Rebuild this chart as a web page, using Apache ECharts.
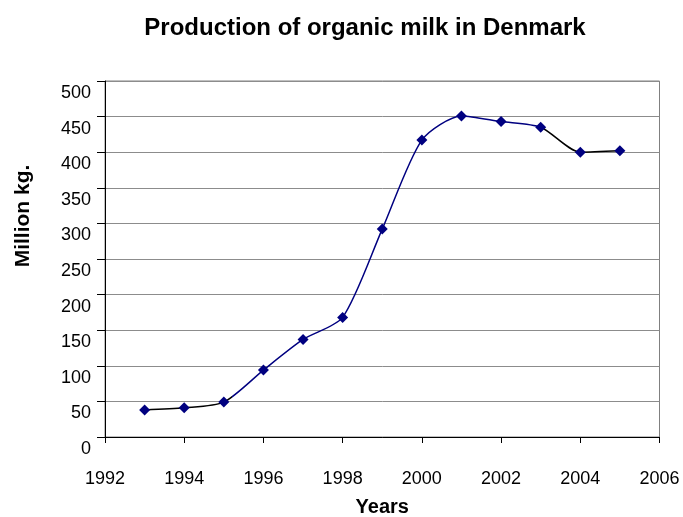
<!DOCTYPE html>
<html>
<head>
<meta charset="utf-8">
<script src="https://cdn.jsdelivr.net/npm/echarts@6/dist/echarts.min.js"></script>
<style>html,body{margin:0;padding:0;background:#fff}#c{width:683px;height:517px}</style>
</head>
<body>
<div id="c"></div>
<script>
const years = [1993, 1994, 1995, 1996, 1997, 1998, 1999, 2000, 2001, 2002, 2003, 2004, 2005];
const production = [38, 41, 49, 94, 137, 168, 292, 417, 451, 443, 435, 400, 402];
const titleText = 'Production of organic milk in Denmark';
const xTitle = 'Years';
const yTitle = 'Million kg.';

const pts = years.map((y, i) => [y, production[i]]);
const font = 'Liberation Sans, Arial, sans-serif';

const chart = echarts.init(document.getElementById('c'));
chart.setOption({
  animation: false,
  title: {
    text: titleText,
    left: 360, top: 11, textAlign: 'center',
    textStyle: {fontFamily: font, fontSize: 24, fontWeight: 'bold', color: '#000'}
  },
  graphic: [{
    type: 'text', x: 23, y: 216, rotation: Math.PI / 2,
    style: {
      text: yTitle, fontFamily: font, fontSize: 21, fontWeight: 'bold', fill: '#000',
      align: 'center', verticalAlign: 'middle'
    }
  }],
  grid: {
    left: 105, right: 23.5, top: 81, bottom: 80,
    outerBoundsMode: 'none', containLabel: false,
    show: true, borderColor: '#808080', borderWidth: 1, backgroundColor: 'transparent'
  },
  xAxis: {
    type: 'value', min: 1992, max: 2006, interval: 2,
    name: xTitle, nameLocation: 'middle', nameGap: 60,
    nameTextStyle: {fontFamily: font, fontSize: 20, fontWeight: 'bold', color: '#000'},
    axisLine: {show: true, onZero: false, lineStyle: {color: '#000', width: 1}},
    axisTick: {show: true, length: 6, lineStyle: {color: '#000'}},
    axisLabel: {fontFamily: font, fontSize: 18, color: '#000', margin: 33, formatter: v => String(v)},
    splitLine: {show: false}
  },
  yAxis: {
    type: 'value', min: 0, max: 500, interval: 50,
    axisLine: {show: true, lineStyle: {color: '#000', width: 1}},
    axisTick: {show: true, length: 8, lineStyle: {color: '#000'}},
    axisLabel: {fontFamily: font, fontSize: 18, color: '#000', margin: 14, verticalAlign: 'top', padding: [3, 0, 0, 0]},
    splitLine: {show: true, lineStyle: {color: '#8c8c8c', width: 1}}
  },
  visualMap: {
    show: false, type: 'piecewise', seriesIndex: 0, dimension: 0,
    pieces: [
      {lt: 1995.2, color: '#000000'},
      {gte: 1995.2, lt: 2003.05, color: '#000080'},
      {gte: 2003.05, color: '#000000'}
    ]
  },
  series: [
    {
      type: 'line', data: pts, smooth: 0.25, showSymbol: false,
      lineStyle: {width: 1.5}, z: 2
    },
    {
      type: 'scatter', data: pts, symbol: 'diamond', symbolSize: 11,
      itemStyle: {color: '#000080', opacity: 1}, z: 3
    }
  ]
});
</script>
</body>
</html>
